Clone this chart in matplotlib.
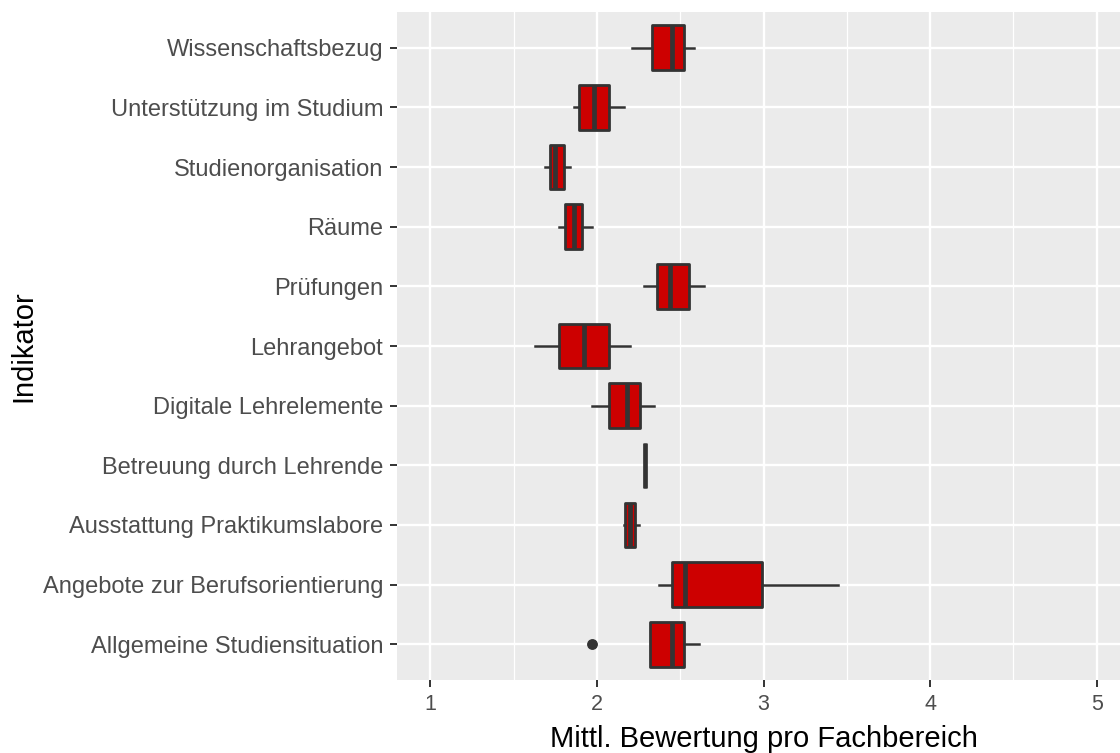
import matplotlib.pyplot as plt
import numpy as np

# --- DATA ---
# order from bottom to top of the y axis
INDICATORS = [
    "Allgemeine Studiensituation",
    "Angebote zur Berufsorientierung",
    "Ausstattung Praktikumslabore",
    "Betreuung durch Lehrende",
    "Digitale Lehrelemente",
    "Lehrangebot",
    "Prüfungen",
    "Räume",
    "Studienorganisation",
    "Unterstützung im Studium",
    "Wissenschaftsbezug",
]
WHISKER_LOW = [2.32, 2.37, 2.16, 2.29, 1.97, 1.63, 2.28, 1.77, 1.69, 1.86, 2.21]
Q1 = [2.32, 2.45, 2.17, 2.29, 2.07, 1.77, 2.36, 1.81, 1.72, 1.89, 2.33]
MEDIAN = [2.45, 2.53, 2.20, 2.29, 2.18, 1.92, 2.44, 1.86, 1.75, 1.98, 2.45]
Q3 = [2.52, 2.99, 2.23, 2.29, 2.26, 2.07, 2.55, 1.91, 1.80, 2.07, 2.52]
WHISKER_HIGH = [2.61, 3.45, 2.25, 2.29, 2.34, 2.20, 2.64, 1.97, 1.84, 2.16, 2.58]
OUTLIERS = [[1.97], [], [], [], [], [], [], [], [], [], []]

X_TICKS = [1, 2, 3, 4, 5]

# --- STYLE ---
BOX_FILL = "#CD0000"
LINE_COL = "#333333"
PANEL_BG = "#EBEBEB"

plt.rcParams['font.family'] = ['Liberation Sans', 'DejaVu Sans']

fig = plt.figure(figsize=(11.2, 7.53), dpi=100)
# panel runs slightly past the right edge, as in the reference
ax = fig.add_axes([397 / 1120, 73 / 753, 733 / 1120, 668 / 753])
ax.set_facecolor(PANEL_BG)

stats = []
for i, name in enumerate(INDICATORS):
    stats.append({
        "label": name,
        "whislo": WHISKER_LOW[i],
        "q1": Q1[i],
        "med": MEDIAN[i],
        "q3": Q3[i],
        "whishi": WHISKER_HIGH[i],
        "fliers": OUTLIERS[i],
    })

positions = np.arange(1, len(INDICATORS) + 1)
ax.bxp(
    stats,
    positions=positions,
    vert=False,
    widths=0.75,
    patch_artist=True,
    showcaps=False,
    boxprops=dict(facecolor=BOX_FILL, edgecolor=LINE_COL, linewidth=2.0, joinstyle='round'),
    medianprops=dict(color=LINE_COL, linewidth=3.4, solid_capstyle='butt'),
    whiskerprops=dict(color=LINE_COL, linewidth=1.8),
    flierprops=dict(marker='o', markerfacecolor=LINE_COL, markeredgecolor=LINE_COL,
                    markersize=6.8),
    zorder=3,
)

# ggplot-like grid
ax.set_xlim(0.8, 5.2)
ax.set_ylim(0.4, len(INDICATORS) + 0.6)
ax.set_xticks(X_TICKS)
ax.set_xticks([1.5, 2.5, 3.5, 4.5], minor=True)
ax.set_yticks(positions)
ax.set_yticklabels(INDICATORS)
ax.grid(which='major', color='white', linewidth=1.7, zorder=0)
ax.grid(which='minor', axis='x', color='white', linewidth=0.9, zorder=0)
ax.set_axisbelow(True)
for s in ax.spines.values():
    s.set_visible(False)

ax.tick_params(axis='both', which='major', length=5, width=1.4, color=LINE_COL,
               labelcolor='#4D4D4D')
ax.tick_params(axis='y', which='major', labelsize=17, pad=5)
ax.tick_params(axis='x', which='major', labelsize=15.5, pad=5)
ax.tick_params(axis='both', which='minor', length=0)

ax.set_xlabel("Mittl. Bewertung pro Fachbereich", fontsize=21, color='black', labelpad=7)
ax.set_ylabel("Indikator", fontsize=21, color='black', labelpad=4)

fig.savefig("out.png", dpi=100)
